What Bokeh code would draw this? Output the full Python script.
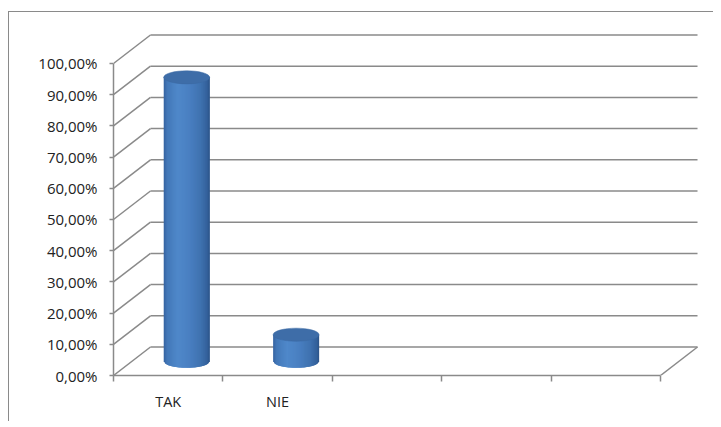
import numpy as np
from bokeh.plotting import figure
from bokeh.models import Range1d, FixedTicker
from bokeh.embed import file_html
from bokeh.resources import INLINE

# ---- data ----
categories = ["TAK", "NIE", "", "", ""]
values = [91.0, 8.5]  # percent
y_ticks = [0, 10, 20, 30, 40, 50, 60, 70, 80, 90, 100]
y_tick_labels = ["0,00%", "10,00%", "20,00%", "30,00%", "40,00%", "50,00%",
                 "60,00%", "70,00%", "80,00%", "90,00%", "100,00%"]

# ---- 3D-look geometry (style) ----
DX = 0.338     # depth offset, category units
DY = 9.13      # depth offset, percent units
BAR_W = 0.42   # cylinder diameter, category units
ELL_H = 4.2    # ellipse height, percent units
GRID = "#8a8a8a"
FONT = "Open Sans"
TXT = "#222222"

n_cat = len(categories)
W, H = 705, 410
p = figure(width=W, height=H, output_backend="svg", toolbar_location=None,
           x_range=Range1d(0, 5.411), y_range=Range1d(0, 113.78),
           min_border_left=104, min_border_right=9, min_border_top=8,
           min_border_bottom=47)
p.styles = {"border-left": "1px solid #8a8a8a", "border-top": "1px solid #8a8a8a",
            "margin-top": "11px", "margin-left": "8px"}
p.xgrid.visible = False
p.ygrid.visible = False
p.outline_line_color = None
p.background_fill_color = "white"

# left wall diagonals and back wall gridlines
ty = np.array(y_ticks, dtype=float)
p.segment(x0=np.zeros_like(ty), y0=ty, x1=np.full_like(ty, DX), y1=ty + DY,
          line_color=GRID, line_width=1.5)
p.segment(x0=np.full_like(ty, DX), y0=ty + DY, x1=np.full_like(ty, n_cat + DX),
          y1=ty + DY, line_color=GRID, line_width=1.5)
# floor right edge
p.segment(x0=[n_cat], y0=[0], x1=[n_cat + DX], y1=[DY], line_color=GRID, line_width=1.5)

# cylinders
stops_u = [-1.0, -0.85, -0.4, 0.1, 0.6, 0.9, 1.0]
stops_c = ["#3563a0", "#4378b8", "#4f88ca", "#4a80c2", "#3f72b0", "#33619b", "#2b5287"]


def hex2rgb(h):
    return [int(h[i:i + 2], 16) for i in (1, 3, 5)]


rgb = np.array([hex2rgb(c) for c in stops_c], dtype=float)


def grad(u):
    c = [np.interp(u, stops_u, rgb[:, k]) for k in range(3)]
    return "#%02x%02x%02x" % tuple(int(round(v)) for v in c)


N = 40
for i, v in enumerate(values):
    cx = i + 0.5 + DX / 2
    base = DY / 2
    top = v + DY / 2
    a = BAR_W / 2
    b = ELL_H / 2
    us = np.linspace(-1, 1, N + 1)
    eps = 2.2 / N
    xs, ys, cols = [], [], []
    for k in range(N):
        u0 = us[k]
        u1 = min(1.0, us[k + 1] + eps * (k < N - 1))
        x0, x1 = cx + a * u0, cx + a * u1
        yb0 = base - b * np.sqrt(max(0.0, 1 - u0 ** 2))
        yb1 = base - b * np.sqrt(max(0.0, 1 - u1 ** 2))
        xs.append([x0, x1, x1, x0])
        ys.append([top, top, yb1, yb0])
        cols.append(grad((us[k] + us[k + 1]) / 2))
    p.patches(xs=xs, ys=ys, fill_color=cols, line_color=None)
    p.ellipse(x=[cx], y=[top], width=[2 * a], height=[2 * b],
              fill_color="#3e6da8", line_color="#3a68a2", line_width=0.5)

# y axis
ya = p.yaxis[0]
ya.ticker = FixedTicker(ticks=y_ticks)
ya.major_label_overrides = {t: l for t, l in zip(y_ticks, y_tick_labels)}
ya.bounds = (0, 100)
ya.axis_line_color = GRID
ya.axis_line_width = 1.5
ya.major_tick_line_color = GRID
ya.major_tick_line_width = 1.5
ya.major_tick_out = 4
ya.major_tick_in = 0
ya.minor_tick_out = 0
ya.minor_tick_in = 0
ya.major_label_standoff = 12
ya.major_label_text_font = FONT
ya.major_label_text_font_size = "15px"
ya.major_label_text_color = TXT

# x axis
xa = p.xaxis[0]
centers = [i + 0.5 for i in range(n_cat)]
xa.ticker = FixedTicker(ticks=centers, minor_ticks=list(range(n_cat + 1)))
xa.major_label_overrides = {c: l for c, l in zip(centers, categories)}
xa.bounds = (0, n_cat)
xa.axis_line_color = GRID
xa.axis_line_width = 1.5
xa.major_tick_out = 0
xa.major_tick_in = 0
xa.minor_tick_out = 6
xa.minor_tick_in = 0
xa.minor_tick_line_color = GRID
xa.minor_tick_line_width = 1.5
xa.major_label_standoff = 10
xa.major_label_text_font = FONT
xa.major_label_text_font_size = "14.5px"
xa.major_label_text_color = TXT

open("out.html", "w").write(file_html(p, INLINE))
